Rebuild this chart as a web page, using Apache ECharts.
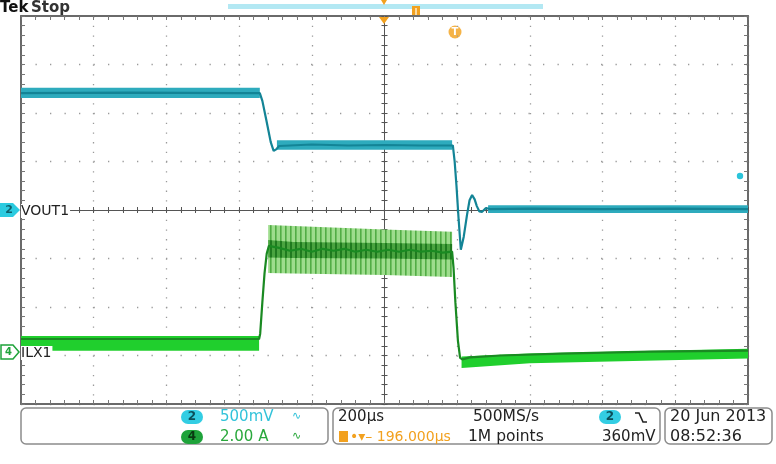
<!DOCTYPE html>
<html><head><meta charset="utf-8">
<script src="https://cdn.jsdelivr.net/npm/echarts@6/dist/echarts.min.js"></script>
<style>html,body{margin:0;padding:0;background:#fff}#c{width:776px;height:464px}</style>
</head><body><div id="c"></div>
<script>
// time axis in µs (200 µs/div), vertical in screen divisions
const timeRange = [-1000, 1000];
const timeStep = 200;
const divRange = [-4, 4];

// Channel 2 VOUT1 trace centre [t(µs), div]
const vout = [[-1000,2.41],[-700,2.42],[-400,2.41],[-343,2.41],[-336,2.25],[-325,1.85],[-313,1.40],[-305,1.22],[-298,1.25],[-290,1.32],[-200,1.35],[-100,1.33],[0,1.34],[100,1.33],[188,1.33],[193,1.0],[198,0.5],[204,-0.2],[210,-0.82],[218,-0.55],[227,-0.10],[234,0.20],[241,0.31],[248,0.22],[254,0.08],[261,-0.03],[268,-0.04],[279,0.04],[290,0.02],[400,0.03],[600,0.02],[800,0.03],[1000,0.02]];
// Channel 2 noise envelopes [t, low, high]
const voutBandA = [[-1000,2.31,2.52],[-343,2.31,2.52]];
const voutBandB = [[-296,1.24,1.44],[186,1.24,1.44]];
const voutBandC = [[285,-0.06,0.10],[1000,-0.06,0.10]];

// Channel 4 ILX1 trace centre [t, div]
const ilx = [[-1000,-2.66],[-345,-2.66],[-342,-2.55],[-336,-1.90],[-330,-1.30],[-324,-0.90],[-318,-0.74],[-290,-0.78],[-260,-0.84],[-230,-0.80],[-200,-0.86],[-170,-0.80],[-140,-0.84],[-110,-0.80],[-80,-0.86],[-50,-0.82],[-20,-0.86],[10,-0.82],[40,-0.86],[70,-0.82],[100,-0.86],[130,-0.84],[160,-0.88],[186,-0.86],[190,-1.2],[195,-1.9],[202,-2.7],[208,-3.05],[214,-3.08],[235,-3.04],[318,-3.00],[483,-2.96],[730,-2.92],[1000,-2.90]];
// Channel 4 noise envelopes [t, low, high]
const ilxBandA = [[-1000,-2.90,-2.60],[-345,-2.90,-2.60]];
const ilxBandB = [[-320,-1.30,-0.31],[-250,-1.31,-0.33],[0,-1.34,-0.40],[186,-1.38,-0.45]];
const ilxCoreB = [[-320,-0.98,-0.62],[-250,-0.99,-0.66],[0,-1.00,-0.68],[186,-1.02,-0.70]];
const ilxBandC = [[212,-3.26,-3.02],[400,-3.16,-2.96],[1000,-3.06,-2.86]];

const chart = echarts.init(document.getElementById('c'), null, {renderer:'canvas'});
const F = 'DejaVu Sans';

function stripes(bg, fg, w) {
  const c = document.createElement('canvas');
  c.width = 5; c.height = 8;
  const g = c.getContext('2d');
  g.fillStyle = bg; g.fillRect(0,0,5,8);
  g.fillStyle = fg; g.fillRect(0,0,w,8);
  return {image:c, repeat:'repeat'};
}

function frameAxis(kind, pos, split) {
  const isX = kind === 'x';
  return {
    type:'value', position:pos,
    min: isX ? timeRange[0] : divRange[0], max: isX ? timeRange[1] : divRange[1],
    interval: isX ? timeStep : 1,
    axisLine:{show:true,onZero:false,lineStyle:{color:'#6a6a6a',width:2}},
    axisTick:{show:true,inside:true,length:4,lineStyle:{color:'#777',width:1}},
    minorTick:{show:true,splitNumber:5,length:4,lineStyle:{color:'#777',width:1}},
    axisLabel:{show:false},
    splitLine:{show:split,lineStyle:{color:'#9a9a9a',width:1.3,type: isX ? [1.3,8.4] : [1.3,13.2]}},
    minorSplitLine:{show:false}
  };
}
function centerAxis(kind, inside) {
  const isX = kind === 'x';
  return {
    type:'value', position: isX ? 'bottom' : 'left',
    min: isX ? timeRange[0] : divRange[0], max: isX ? timeRange[1] : divRange[1],
    interval: isX ? timeStep : 1,
    axisLine:{show:true,onZero:true,onZeroAxisIndex:0,lineStyle:{color:'#555',width:1}},
    axisTick:{show:true,inside:inside,length:3,lineStyle:{color:'#555',width:1}},
    minorTick:{show:true,splitNumber:5,length:3,lineStyle:{color:'#555',width:1}},
    axisLabel:{show:false}, splitLine:{show:false}
  };
}

// envelope band drawn as polygon through the axis scales
function bandSeries(band, fill, z) {
  return {
    type:'custom', silent:true, z:z||2,
    data:[band[0]],
    encode:{x:0, y:[1,2]},
    renderItem:function(params, api) {
      const top = band.map(d => api.coord([d[0], d[2]]));
      const bot = band.slice().reverse().map(d => api.coord([d[0], d[1]]));
      return {type:'polygon', shape:{points: top.concat(bot)}, style:{fill:fill}};
    }
  };
}

const series = [
  bandSeries(voutBandA, '#2eabbd'),
  bandSeries(voutBandB, '#2eabbd'),
  bandSeries(voutBandC, '#2eabbd'),
  bandSeries(ilxBandA, '#20cf2d'),
  bandSeries(ilxBandB, stripes('#9edd8d', '#52ad45', 1.6)),
  bandSeries(ilxCoreB, stripes('#4aa440', '#1f7a1f', 2), 3),
  bandSeries(ilxBandC, '#20cf2d'),
  {type:'line', name:'VOUT1', data:vout, showSymbol:false, lineStyle:{color:'#138496',width:2.2}, z:4},
  {type:'line', name:'ILX1', data:ilx, showSymbol:false, lineStyle:{color:'#1a8a22',width:2.2}, z:4}
];

const txt = (x,y,s,color,size) => ({type:'text', x:x, y:y, style:{text:s, fill:color, font:(size||15)+'px "'+F+'"', textVerticalAlign:'middle'}});
const pill = (cx,cy,label,fill,tcol) => ({type:'group', children:[
  {type:'rect', shape:{x:cx-11,y:cy-7,width:22,height:14,r:7}, style:{fill:fill}},
  {type:'text', x:cx, y:cy, style:{text:label, fill:tcol, font:'bold 12px "'+F+'"', textAlign:'center', textVerticalAlign:'middle'}}
]});
const panel = (x,y,w,h) => ({type:'rect', shape:{x:x,y:y,width:w,height:h,r:5}, style:{fill:'none', stroke:'#8c8c8c', lineWidth:1.5}});

const graphics = [
  {type:'text', x:0, y:8, style:{text:'Tek', fill:'#111', font:'bold 15px "'+F+'"', textVerticalAlign:'middle'}},
  {type:'text', x:31, y:8, style:{text:'Stop', fill:'#333', font:'bold 15px "'+F+'"', textVerticalAlign:'middle'}},
  {type:'rect', shape:{x:228,y:4,width:315,height:5}, style:{fill:'#b3e8f3'}},
  {type:'polygon', shape:{points:[[381,0],[387,0],[384,5]]}, style:{fill:'#f2a11f'}},
  {type:'polygon', shape:{points:[[379,17],[389,17],[384,24]]}, style:{fill:'#f2a11f'}, z:10},
  {type:'rect', shape:{x:412,y:6,width:8,height:11}, style:{fill:'#f2a11f'}},
  {type:'rect', shape:{x:415.3,y:8,width:1.4,height:7}, style:{fill:'#fff3d8'}},
  {type:'circle', shape:{cx:455,cy:32,r:6.5}, style:{fill:'#f5b347'}},
  {type:'text', x:455, y:32, style:{text:'T', fill:'#fff', font:'bold 10px "'+F+'"', textAlign:'center', textVerticalAlign:'middle'}},
  {type:'circle', shape:{cx:740,cy:176,r:3.2}, style:{fill:'#2ac4da'}, z:10},
  {type:'polygon', shape:{points:[[0,203],[13,203],[20,210],[13,217],[0,217]]}, style:{fill:'#2ccbe0'}, z:10},
  {type:'text', x:9, y:210, style:{text:'2', fill:'#0e5f6b', font:'bold 11px "'+F+'"', textAlign:'center', textVerticalAlign:'middle'}, z:11},
  {type:'polygon', shape:{points:[[1,345],[13,345],[19,352],[13,359],[1,359]]}, style:{fill:'#fff', stroke:'#1ea33a', lineWidth:1.5}, z:10},
  {type:'text', x:8.5, y:352, style:{text:'4', fill:'#1ea33a', font:'bold 10px "'+F+'"', textAlign:'center', textVerticalAlign:'middle'}, z:11},
  {type:'text', x:21, y:211, style:{text:'VOUT1', fill:'#222', font:'14px "'+F+'"', textVerticalAlign:'middle', backgroundColor:'#fff', padding:[0,1,0,0]}, z:10},
  {type:'text', x:21, y:353, style:{text:'ILX1', fill:'#222', font:'14px "'+F+'"', textVerticalAlign:'middle', backgroundColor:'#fff', padding:[0,1,0,0]}, z:10},
  panel(21,408,307,36), panel(333,408,327,36), panel(665,408,107,36),
  pill(192,417,'2','#33cde3','#0b4f5a'),
  txt(220,417,'500mV','#33c3da',15),
  txt(292,416,'∿','#33c3da',11),
  pill(192,437,'4','#1ea33a','#0a3a12'),
  txt(220,437,'2.00 A','#2aa83c',15),
  txt(292,436,'∿','#2aa83c',11),
  txt(338,417,'200µs','#222',15),
  txt(473,417,'500MS/s','#222',15.5),
  {type:'rect', shape:{x:339,y:431,width:9,height:11}, style:{fill:'#f2a11f'}},
  txt(350,437,'•▾– 196.000µs','#f2a11f',14),
  txt(468,437,'1M points','#222',15.5),
  pill(610,417,'2','#33cde3','#0b4f5a'),
  {type:'polyline', shape:{points:[[635,413],[639,413],[643,422],[647,422]]}, style:{stroke:'#222', lineWidth:1.6, fill:'none'}},
  txt(602,437,'360mV','#222',15),
  txt(670,417,'20 Jun 2013','#222',16),
  txt(670,437,'08:52:36','#222',16)
];

chart.setOption({
  animation:false,
  backgroundColor:'#fff',
  grid:{left:21, top:16, width:727, height:388, containLabel:false},
  xAxis:[frameAxis('x','bottom',true), frameAxis('x','top',false), centerAxis('x',true), centerAxis('x',false)],
  yAxis:[frameAxis('y','left',true), frameAxis('y','right',false), centerAxis('y',true), centerAxis('y',false)],
  series:series,
  graphic:graphics
});
</script></body></html>
